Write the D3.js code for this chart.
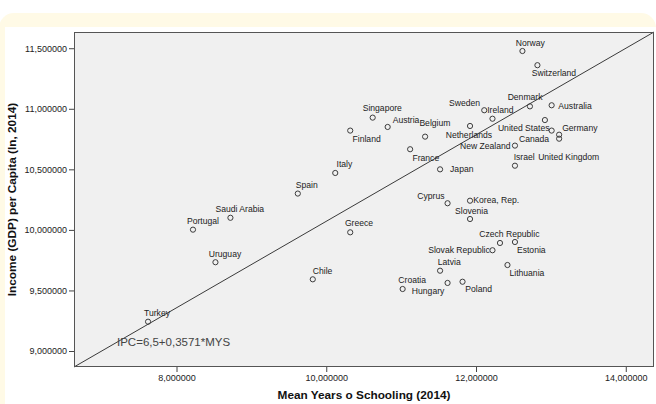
<!DOCTYPE html>
<html>
<head>
<meta charset="utf-8">
<script src="https://cdn.jsdelivr.net/npm/d3@7"></script>
<style>
  html, body { margin: 0; padding: 0; background: #ffffff; }
  svg { display: block; font-family: "Liberation Sans", Arial, sans-serif; }
</style>
</head>
<body>
<svg id="chart" width="656" height="404"></svg>
<script>
// Countries, mean years of schooling (2014) and ln of GDP per capita (2014)
const countries = [
  "Norway", "Switzerland", "Denmark", "Australia", "Sweden", "Ireland",
  "United States", "Canada", "Germany", "United Kingdom", "Netherlands",
  "Belgium", "New Zealand", "Israel", "France", "Japan", "Singapore",
  "Austria", "Finland", "Italy", "Spain", "Saudi Arabia", "Portugal",
  "Greece", "Uruguay", "Chile", "Turkey", "Cyprus", "Korea, Rep.",
  "Slovenia", "Czech Republic", "Estonia", "Slovak Republic", "Lithuania",
  "Latvia", "Croatia", "Hungary", "Poland"
];
const schooling = [
  12.62, 12.82, 12.72, 13.01, 12.11, 12.22,
  12.92, 13.01, 13.11, 13.11, 11.92,
  11.32, 12.52, 12.52, 11.12, 11.52, 10.62,
  10.82, 10.32, 10.12, 9.62, 8.72, 8.22,
  10.32, 8.52, 9.82, 7.62, 11.62, 11.92,
  11.92, 12.32, 12.52, 12.22, 12.42,
  11.52, 11.02, 11.62, 11.82
];
const incomeLn = [
  11.477, 11.360, 11.020, 11.029, 10.988, 10.918,
  10.907, 10.820, 10.786, 10.753, 10.858,
  10.770, 10.696, 10.530, 10.666, 10.500, 10.927,
  10.850, 10.820, 10.470, 10.300, 10.100, 10.002,
  9.980, 9.733, 9.592, 9.242, 10.220, 10.241,
  10.090, 9.892, 9.900, 9.832, 9.710,
  9.663, 9.512, 9.562, 9.572
];

// Fit line IPC = a + b * MYS
const fitIntercept = 6.5;
const fitSlope = 0.3571;
const fitLabel = "IPC=6,5+0,3571*MYS";

// Axis ticks
const xTicks = [8, 10, 12, 14];
const yTicks = [9.0, 9.5, 10.0, 10.5, 11.0, 11.5];
const xTitle = "Mean Years o Schooling (2014)";
const yTitle = "Income (GDP) per Capita (ln, 2014)";

// Label placement next to each marker: [dx to text start, dy to baseline]
const labelOffset = {
  "Norway": [-6.7, -5.3], "Switzerland": [-5.7, 11], "Denmark": [-22.3, -6],
  "Australia": [6.7, 3.7], "Sweden": [-35.3, -4.7], "Ireland": [-5.3, -5.7],
  "United States": [-47, 11.3], "Canada": [-32.7, 11], "Germany": [3, -3.3],
  "United Kingdom": [-21, 21], "Netherlands": [-24.3, 12], "Belgium": [-5.7, -11],
  "New Zealand": [-55, 3], "Israel": [-1.3, -6], "France": [2.3, 11.3],
  "Japan": [10, 3], "Singapore": [-10, -6.3], "Austria": [5, -4],
  "Finland": [2.3, 11.3], "Italy": [1.3, -6], "Spain": [-2, -6],
  "Saudi Arabia": [-15, -6], "Portugal": [-6, -5.7], "Greece": [-5.3, -6],
  "Uruguay": [-6.7, -5.3], "Chile": [0, -5.7], "Turkey": [-4, -6],
  "Cyprus": [-30.3, -4.3], "Korea, Rep.": [3.3, 2.3], "Slovenia": [-15, -5.3],
  "Czech Republic": [-20.7, -6], "Estonia": [2, 11], "Slovak Republic": [-64.3, 3],
  "Lithuania": [2, 10.7], "Latvia": [-2.3, -5.3], "Croatia": [-4.3, -5.7],
  "Hungary": [-35.7, 11.3], "Poland": [2.7, 10.7]
};

const W = 656, H = 404;
const plot = { left: 74, top: 32, right: 654, bottom: 367 };

const svg = d3.select("#chart");

// Frame: cream rounded backdrop with a white panel inside
svg.append("rect").attr("x", 0).attr("y", 0).attr("width", W).attr("height", H).attr("fill", "#ffffff");
svg.append("rect").attr("x", -1).attr("y", 13).attr("width", W + 1).attr("height", H)
  .attr("rx", 15).attr("fill", "#fffae6");
svg.append("rect").attr("x", 5).attr("y", 27).attr("width", W - 5).attr("height", H - 27)
  .attr("fill", "#ffffff");

// Scales: the fit line spans the plot corner to corner
const xDomain = [6.631, 14.377];
const yDomain = xDomain.map(v => fitIntercept + fitSlope * v);
const x = d3.scaleLinear().domain(xDomain).range([plot.left, plot.right]);
const y = d3.scaleLinear().domain(yDomain).range([plot.bottom, plot.top]);

const tickFmt = d => d3.format(".6f")(d).replace(".", ",");

// Plot area
svg.append("rect")
  .attr("x", plot.left).attr("y", plot.top)
  .attr("width", plot.right - plot.left).attr("height", plot.bottom - plot.top)
  .attr("fill", "#f0f0f0");

// Axes
const xAxis = d3.axisBottom(x).tickValues(xTicks).tickSize(5).tickSizeOuter(0).tickPadding(3)
  .tickFormat(tickFmt);
const yAxis = d3.axisLeft(y).tickValues(yTicks).tickSize(5).tickSizeOuter(0).tickPadding(2)
  .tickFormat(tickFmt);

const gx = svg.append("g").attr("transform", `translate(0,${plot.bottom})`).call(xAxis);
const gy = svg.append("g").attr("transform", `translate(${plot.left},0)`).call(yAxis);
[gx, gy].forEach(g => {
  g.select(".domain").remove();
  g.selectAll(".tick line").attr("stroke", "#444").attr("stroke-width", 1);
  g.selectAll(".tick text").attr("fill", "#222").style("font-size", "9px")
    .style("font-family", '"Liberation Sans", Arial, sans-serif');
});

// Fit line
svg.append("line")
  .attr("x1", x(xDomain[0])).attr("y1", y(fitIntercept + fitSlope * xDomain[0]))
  .attr("x2", x(xDomain[1])).attr("y2", y(fitIntercept + fitSlope * xDomain[1]))
  .attr("stroke", "#3a3a3a").attr("stroke-width", 1);

// Plot border
svg.append("rect")
  .attr("x", plot.left + 0.5).attr("y", plot.top + 0.5)
  .attr("width", plot.right - plot.left - 1).attr("height", plot.bottom - plot.top - 1)
  .attr("fill", "none").attr("stroke", "#555").attr("stroke-width", 1);

// Points and labels
const pts = countries.map((c, i) => ({ name: c, mys: schooling[i], ipc: incomeLn[i] }));

svg.append("g").selectAll("circle").data(pts).join("circle")
  .attr("cx", d => x(d.mys)).attr("cy", d => y(d.ipc)).attr("r", 2.6)
  .attr("fill", "none").attr("stroke", "#3c3c3c").attr("stroke-width", 1);

svg.append("g").selectAll("text").data(pts).join("text")
  .attr("x", d => x(d.mys) + labelOffset[d.name][0])
  .attr("y", d => y(d.ipc) + labelOffset[d.name][1])
  .attr("fill", "#222").style("font-size", "8.6px")
  .text(d => d.name);

// Fit equation
svg.append("text")
  .attr("x", 117).attr("y", 346)
  .attr("fill", "#444").style("font-size", "11.5px")
  .text(fitLabel);

// Axis titles
svg.append("text")
  .attr("x", (plot.left + plot.right) / 2).attr("y", 399)
  .attr("text-anchor", "middle").attr("fill", "#111")
  .style("font-size", "11.8px").style("font-weight", "bold")
  .text(xTitle);

svg.append("text")
  .attr("transform", `translate(16,${(plot.top + plot.bottom) / 2}) rotate(-90)`)
  .attr("text-anchor", "middle").attr("fill", "#111")
  .style("font-size", "11.8px").style("font-weight", "bold")
  .text(yTitle);
</script>
</body>
</html>
